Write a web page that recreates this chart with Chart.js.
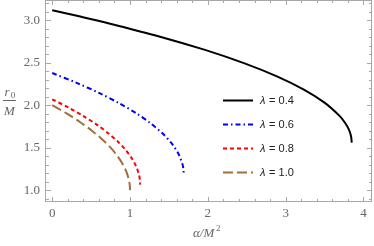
<!DOCTYPE html>
<html>
<head>
<meta charset="utf-8">
<script src="https://cdn.jsdelivr.net/npm/chart.js@4"></script>
<style>
  html, body { margin: 0; padding: 0; background: #fff; }
  #wrap { width: 374px; height: 246px; }
</style>
</head>
<body>
<div id="wrap"><canvas id="chart" width="374" height="246"></canvas></div>
<script>
// Courbes r0/M en fonction de alpha/M^2
const alpha04 = [0, 0.375, 0.732, 1.386, 1.964, 2.464, 2.888, 3.234, 3.504, 3.696, 3.763, 3.812, 3.840, 3.85];
const r04     = [3.120, 3.042, 2.964, 2.808, 2.652, 2.496, 2.340, 2.184, 2.028, 1.872, 1.794, 1.716, 1.638, 1.56];

const alpha06 = [0, 0.321, 0.608, 0.862, 1.082, 1.268, 1.420, 1.538, 1.622, 1.673, 1.686, 1.69];
const r06     = [2.380, 2.261, 2.142, 2.023, 1.904, 1.785, 1.666, 1.547, 1.428, 1.309, 1.250, 1.19];

const alpha08 = [0, 0.215, 0.407, 0.576, 0.723, 0.848, 0.949, 1.028, 1.085, 1.119, 1.127, 1.13];
const r08     = [2.070, 1.970, 1.869, 1.769, 1.668, 1.568, 1.467, 1.367, 1.266, 1.166, 1.115, 1.065];

const alpha10 = [0, 0.19, 0.36, 0.51, 0.64, 0.75, 0.84, 0.91, 0.96, 0.99, 0.9975, 1.0];
const r10     = [2.0, 1.9, 1.8, 1.7, 1.6, 1.5, 1.4, 1.3, 1.2, 1.1, 1.05, 1.0];

const seriesLabels = ['0.4', '0.6', '0.8', '1.0'];
const xTicks = [0, 1, 2, 3, 4];
const yTicks = [1.0, 1.5, 2.0, 2.5, 3.0];

const toPoints = (xs, ys) => xs.map((v, i) => ({ x: v, y: ys[i] }));

const gray = '#666666';

// Cadre style Mathematica, graduations vers l'intérieur
const framePlugin = {
    id: 'frame',
    afterDraw(chart) {
        const { ctx, chartArea: a, scales: { x, y } } = chart;
        ctx.save();
        ctx.strokeStyle = '#a8a8a8';
        ctx.lineWidth = 1;
        ctx.strokeRect(a.left - 0.5, a.top + 0.5, a.right - a.left, a.bottom - a.top - 1);

        ctx.beginPath();
        for (let i = 0; i <= 20; i++) {
            const v = i * 0.2;
            const px = Math.round(x.getPixelForValue(v)) + 0.5;
            const len = (i % 5 === 0) ? 5 : 3;
            ctx.moveTo(px, a.bottom); ctx.lineTo(px, a.bottom - len);
            ctx.moveTo(px, a.top); ctx.lineTo(px, a.top + len);
        }
        for (let i = 9; i <= 32; i++) {
            const v = i * 0.1;
            const py = Math.round(y.getPixelForValue(v)) + 0.5;
            const len = (i % 5 === 0) ? 5 : 3;
            ctx.moveTo(a.left, py); ctx.lineTo(a.left + len, py);
            ctx.moveTo(a.right, py); ctx.lineTo(a.right - len, py);
        }
        ctx.stroke();

        // titre axe y : fraction r0 / M
        ctx.fillStyle = gray;
        ctx.textAlign = 'center';
        ctx.textBaseline = 'alphabetic';
        ctx.font = 'italic 13px "Liberation Serif", serif';
        ctx.fillText('r', 7, 96);
        ctx.font = '9px "Liberation Serif", serif';
        ctx.fillText('0', 13, 98);
        ctx.fillRect(3, 100, 13, 1);
        ctx.font = 'italic 13px "Liberation Serif", serif';
        ctx.fillText('M', 9.5, 115);

        // titre axe x : alpha / M^2
        ctx.font = 'italic 13px "Liberation Serif", serif';
        ctx.textAlign = 'left';
        ctx.fillText('α/M', 193, 237);
        ctx.font = '9px "Liberation Serif", serif';
        ctx.fillText('2', 216, 231);

        // légende
        const rows = [100.5, 124.5, 148.5, 172.5];
        chart.data.datasets.forEach((ds, i) => {
            const yy = rows[i];
            ctx.strokeStyle = ds.borderColor;
            ctx.lineWidth = ds.borderWidth;
            ctx.setLineDash(ds.borderDash || []);
            ctx.beginPath();
            ctx.moveTo(223, yy);
            ctx.lineTo(253, yy);
            ctx.stroke();
            ctx.setLineDash([]);
            ctx.fillStyle = '#222';
            ctx.textBaseline = 'middle';
            ctx.textAlign = 'left';
            ctx.font = 'italic 11px "Liberation Sans", sans-serif';
            ctx.fillText('λ', 260, yy + 0.5);
            ctx.font = '11px "Liberation Sans", sans-serif';
            ctx.fillText(' = ' + seriesLabels[i], 266, yy + 0.5);
        });
        ctx.restore();
    }
};

new Chart(document.getElementById('chart').getContext('2d'), {
    type: 'scatter',
    data: {
        datasets: [
            { data: toPoints(alpha04, r04), borderColor: '#000000', borderWidth: 2, borderDash: [] },
            { data: toPoints(alpha06, r06), borderColor: '#0000ff', borderWidth: 2, borderDash: [5, 3, 1.5, 3] },
            { data: toPoints(alpha08, r08), borderColor: '#ff0000', borderWidth: 2, borderDash: [4, 3] },
            { data: toPoints(alpha10, r10), borderColor: '#a0703c', borderWidth: 2, borderDash: [10, 4] }
        ].map(d => Object.assign(d, { showLine: true, pointRadius: 0, tension: 0.3, fill: false }))
    },
    options: {
        responsive: false,
        animation: false,
        devicePixelRatio: 1,
        layout: { padding: { top: 0, right: 2, left: 0, bottom: 0 } },
        plugins: { legend: { display: false }, tooltip: { enabled: false } },
        scales: {
            x: {
                type: 'linear', min: -0.08, max: 4.11,
                afterBuildTicks: s => { s.ticks = xTicks.map(v => ({ value: v })); },
                afterFit: s => { s.height = 44; s.paddingLeft = 0; s.paddingRight = 0; },
                grid: { display: false, drawTicks: false },
                border: { display: false },
                ticks: { color: gray, font: { family: '"Liberation Serif", serif', size: 13 }, padding: 4,
                         maxRotation: 0, callback: v => String(v) }
            },
            y: {
                type: 'linear', min: 0.86, max: 3.24,
                afterBuildTicks: s => { s.ticks = yTicks.map(v => ({ value: v })); },
                afterFit: s => { s.width = 46; s.paddingTop = 0; s.paddingBottom = 0; },
                grid: { display: false, drawTicks: false },
                border: { display: false },
                ticks: { color: gray, font: { family: '"Liberation Serif", serif', size: 13 }, padding: 6,
                         callback: v => v.toFixed(1) }
            }
        }
    },
    plugins: [framePlugin]
});
</script>
</body>
</html>
